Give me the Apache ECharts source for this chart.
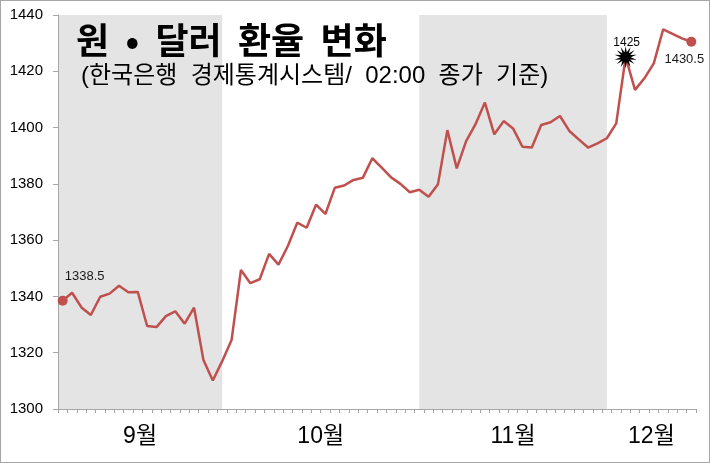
<!DOCTYPE html>
<html><head><meta charset="utf-8">
<script src="https://cdn.jsdelivr.net/npm/echarts@6/dist/echarts.min.js"></script>
<style>
html,body{margin:0;padding:0;background:#fff;}
#c{position:absolute;left:0;top:0;width:710px;height:463px;}
#frame{position:absolute;left:0;top:0;width:710px;height:463px;box-sizing:border-box;border:1px solid #a6a6a6;pointer-events:none;}
</style></head>
<body>
<div id="c"></div><div id="frame"></div>
<script>
// ---- data ----
const months = ['9월', '10월', '11월', '12월'];
const monthDays = [
  [2,3,4,5,6,9,10,11,12,13,19,20,23,24,25,26,27,30],
  [2,4,7,8,10,11,14,15,16,17,18,21,22,23,24,25,28,29,30,31],
  [1,4,5,6,7,8,11,12,13,14,15,18,19,20,21,22,25,26,27,28,29],
  [2,3,4,5,6,9,10,11,12]
];
const monthNums = [9, 10, 11, 12];
const categories = [];
monthDays.forEach((days, m) => days.forEach(d => categories.push(monthNums[m] + '/' + d)));
const rates = [
  1338.5, 1341.3, 1336.1, 1333.4, 1339.9, 1341.0, 1343.8, 1341.5, 1341.6, 1329.5,
  1329.1, 1333.0, 1334.7, 1330.3, 1336.0, 1317.4, 1310.1, 1317.0, 1324.5, 1349.4,
  1344.7, 1346.1, 1355.1, 1351.3, 1357.9, 1366.2, 1364.4, 1372.6, 1369.3, 1378.6,
  1379.4, 1381.4, 1382.2, 1389.1, 1385.8, 1382.3, 1380.0, 1377.0, 1377.9, 1375.4,
  1379.9, 1399.1, 1385.5, 1395.2, 1401.2, 1408.9, 1397.6, 1402.3, 1399.7, 1393.2,
  1392.9, 1400.9, 1401.9, 1404.1, 1398.8, 1395.8, 1392.9, 1394.4, 1396.2, 1401.5,
  1425.0, 1413.4, 1417.5, 1422.8, 1434.9, 1433.3, 1431.7, 1430.5
];
const markedDate = '12/3';
const yTicks = [1300, 1320, 1340, 1360, 1380, 1400, 1420, 1440];
const shaded = [true, false, true, false];
const titleText = '원  •  달러  환율  변화';
const subtitleText = '(한국은행  경제통계시스템/  02:00  종가  기준)';

// ---- layout (category units on a hidden value axis) ----
const monthEdges = [0, 17.5, 38.5, 58.5, categories.length];
const labelPos = months.map((_, m) => (monthEdges[m] + monthEdges[m + 1]) / 2);
const bands = [];
months.forEach((_, m) => { if (shaded[m]) bands.push([monthEdges[m], monthEdges[m + 1]]); });

function starPath(n, r1, r2) {
  let d = '';
  for (let k = 0; k < 2 * n; k++) {
    const r = k % 2 ? r2 : r1;
    const a = Math.PI * k / n - Math.PI / 2;
    d += (k ? 'L' : 'M') + (r * Math.cos(a)).toFixed(2) + ' ' + (r * Math.sin(a)).toFixed(2);
  }
  return 'path://' + d + 'Z';
}

const RED = '#c0504d';
const FF = '"Noto Sans CJK KR", "Noto Sans", sans-serif';
const MF = '"Liberation Sans", "Noto Sans CJK KR", sans-serif';
const NF = '"Liberation Sans", Arial, sans-serif';
const markedIdx = categories.indexOf(markedDate);
const lastIdx = rates.length - 1;

const seriesData = rates.map((v, i) => {
  if (i === 0) return { value: v, symbol: 'circle', symbolSize: 10, itemStyle: { color: RED },
    label: { show: true, position: 'top', offset: [22, -8], formatter: String(v.toFixed(1)), fontSize: 13, color: '#1a1a1a', fontFamily: NF } };
  if (i === markedIdx) return { value: v, symbol: starPath(14, 11, 5), symbolSize: [22, 22], itemStyle: { color: '#000' },
    label: { show: true, position: 'top', offset: [1, 7], formatter: String(Math.round(v)), fontSize: 12, color: '#000', fontFamily: NF } };
  if (i === lastIdx) return { value: v, symbol: 'circle', symbolSize: 10, itemStyle: { color: RED },
    label: { show: true, position: 'bottom', offset: [-7, 1], formatter: String(v.toFixed(1)), fontSize: 13, color: '#1a1a1a', fontFamily: NF } };
  return { value: v, symbol: 'none' };
});

const chart = echarts.init(document.getElementById('c'), null, { renderer: 'canvas' });
chart.setOption({
  animation: false,
  backgroundColor: '#fff',
  title: [
    { text: titleText, left: 71, top: 17,
      textStyle: { fontFamily: FF, fontSize: 36, fontWeight: 'bold', color: '#000' } },
    { text: subtitleText, left: 76, top: 59,
      textStyle: { fontFamily: MF, fontSize: 24, fontWeight: 'normal', color: '#000' } }
  ],
  grid: { left: 58, right: 14, top: 15, bottom: 54 },
  xAxis: [
    { type: 'category', data: categories, boundaryGap: true,
      axisLine: { show: true, lineStyle: { color: '#a6a6a6', width: 1 } },
      axisTick: { show: true, interval: 0, length: 4, lineStyle: { color: '#a6a6a6' } },
      axisLabel: { show: false }, splitLine: { show: false } },
    { type: 'value', min: 0, max: categories.length, position: 'bottom',
      axisLine: { show: false }, axisTick: { show: false }, splitLine: { show: false },
      axisLabel: { show: true, customValues: labelPos, margin: 16, fontSize: 23, color: '#000', fontFamily: MF,
        formatter: v => { const k = labelPos.indexOf(v); return k >= 0 ? months[k] : ''; } } }
  ],
  yAxis: {
    type: 'value', min: yTicks[0], max: yTicks[yTicks.length - 1], interval: yTicks[1] - yTicks[0],
    axisLine: { show: true, lineStyle: { color: '#a6a6a6' } },
    axisTick: { show: true, length: 5, lineStyle: { color: '#a6a6a6' } },
    splitLine: { show: false },
    axisLabel: { fontSize: 15, color: '#000', margin: 15, fontFamily: NF, formatter: v => String(v) }
  },
  series: [
    { type: 'custom', xAxisIndex: 1, yAxisIndex: 0, silent: true, z: 0, data: bands,
      encode: { x: [0, 1] },
      renderItem: (params, api) => {
        const p0 = api.coord([api.value(0), yTicks[yTicks.length - 1]]);
        const p1 = api.coord([api.value(1), yTicks[0]]);
        return { type: 'rect', shape: { x: p0[0], y: p0[1], width: p1[0] - p0[0], height: p1[1] - p0[1] },
          style: { fill: '#e4e4e4' } };
      } },
    { type: 'line', xAxisIndex: 0, yAxisIndex: 0, z: 3, data: seriesData,
      showSymbol: true, showAllSymbol: true, symbol: 'none',
      lineStyle: { color: RED, width: 2.5 }, itemStyle: { color: RED } }
  ]
});
</script>
</body></html>
